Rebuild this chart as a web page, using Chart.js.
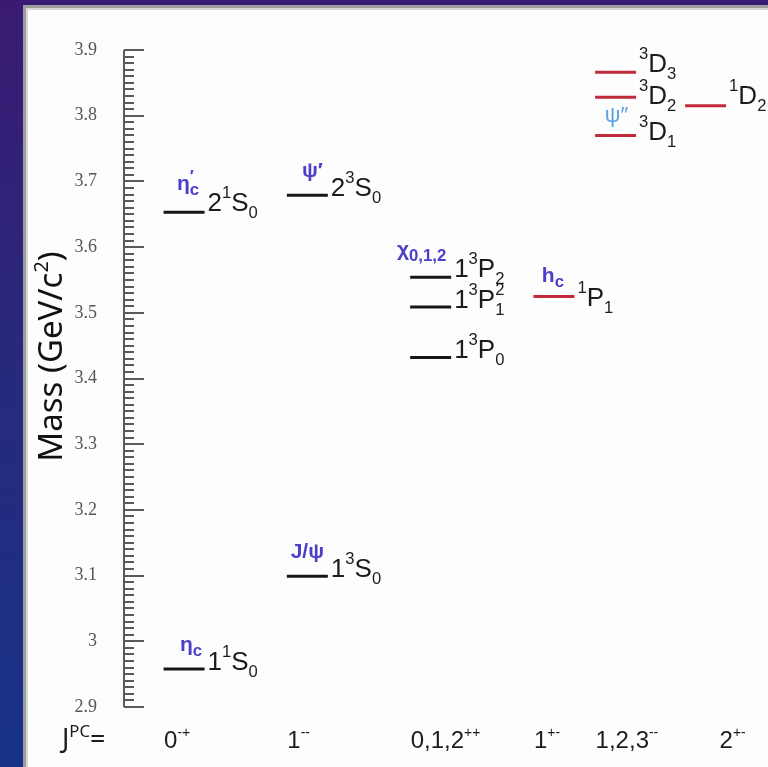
<!DOCTYPE html>
<html>
<head>
<meta charset="utf-8">
<script src="https://cdn.jsdelivr.net/npm/chart.js@4/dist/chart.umd.min.js"></script>
<style>
  html, body { margin: 0; padding: 0; background: #24276f; overflow: hidden; }
  #wrap { position: relative; width: 768px; height: 767px; }
</style>
</head>
<body>
<div id="wrap"><canvas id="spectrum"></canvas></div>
<script>
// ---- Charmonium spectrum data ----
// J^PC columns (markup: ^{..} superscript, _{..} subscript)
const jpcLabels = ['0^{-+}', '1^{--}', '0,1,2^{++}', '1^{+-}', '1,2,3^{--}', '2^{+-}'];
const jpcHeader = 'J^{PC}=';

// Levels: mass in GeV/c^2 and the J^PC column each one belongs to
const levelMass   = [2.958, 3.099, 3.653, 3.679, 3.554, 3.509, 3.432, 3.525, 3.866, 3.828, 3.770, 3.815];
const levelColumn = [0, 1, 0, 1, 2, 2, 2, 3, 4, 4, 4, 5];
const stateNames  = ['1^{1}S_{0}', '1^{3}S_{0}', '2^{1}S_{0}', '2^{3}S_{0}', '1^{3}P_{2}', '1^{3}P^{2}_{1}',
                     '1^{3}P_{0}', '^{1}P_{1}', '^{3}D_{3}', '^{3}D_{2}', '^{3}D_{1}', '^{1}D_{2}'];
const particleNames = ['η_{c}', 'J/ψ', 'η^{′}_{c}', 'ψ′', 'χ_{0,1,2}', '', '', 'h_{c}', '', '', 'ψ″', ''];
const highlighted = [false, false, false, false, false, false, false, true, true, true, true, true];

// Mass axis
const massMin = 2.9, massMax = 3.9, majorStep = 0.1, minorStep = 0.01;
const axisTitle = 'Mass (GeV/c^{2})';

// ---- Layout (scale units / pixel nudges) ----
const columnPos = [0, 1, 2, 3, 3.5, 4.23];
const xRange = [-0.487, 4.736];
const stateDy = [1, 1, -1, 1, 0, 1, 1, 10, 0, 7, 5, -2];
const nameDx  = [7, 0, 4, 5, -9, 0, 0, -1, 0, 0, 1, 0];
const nameDy  = [-18, -18, -22, -18, -21, 0, 0, -14, 0, 0, -13, 0];
const jpcDx   = [-20, -20, -20, -20, -20, 14];

// ---- Styles ----
const SANS = '"Liberation Sans", Arial, sans-serif';
const lineColor = { normal: '#161616', highlight: '#c22a3a' };
const stateStyle = { size: 26, family: SANS, weight: 'normal', small: 0.64, rise: 13, drop: 7, color: '#1c1c1c' };
const nameStyle  = { size: 21, family: SANS, weight: 'bold', small: 0.8, rise: 8, drop: 5, color: '#4d40c8' };
const name2Style = Object.assign({}, nameStyle, { size: 22, weight: 'normal', color: '#5da2e4' });
const jpcStyle   = { size: 24, family: SANS, weight: 'normal', small: 0.58, rise: 11, drop: 0, color: '#1c1c1c' };
const headStyle  = { size: 27, family: '"Noto Sans", sans-serif', weight: 'normal', small: 0.62, rise: 11, drop: 0, color: '#1c1c1c' };
const titleStyle = { size: 33, family: '"Noto Sans", sans-serif', weight: 'normal', small: 0.6, rise: 14, drop: 0, color: '#111111' };

// ---- Rich text helpers ----
function parseRich(s) {
  const out = [];
  let i = 0;
  const isMark = k => (s[k] === '^' || s[k] === '_') && s[k + 1] === '{';
  while (i < s.length) {
    if (isMark(i)) {
      const j = s.indexOf('}', i);
      out.push({ t: s.slice(i + 2, j), k: s[i] === '^' ? 'sup' : 'sub' });
      i = j + 1;
    } else {
      let j = i;
      while (j < s.length && !isMark(j)) j++;
      out.push({ t: s.slice(i, j), k: 'base' });
      i = j;
    }
  }
  return out;
}
function layoutRich(ctx, s, o) {
  const items = [];
  let x = 0, lastSup = null;
  for (const p of parseRich(s)) {
    const size = p.k === 'base' ? o.size : o.size * o.small;
    ctx.font = `${o.weight} ${size}px ${o.family}`;
    const w = ctx.measureText(p.t).width;
    let px = x;
    if (p.k === 'sub' && lastSup !== null) { px = lastSup; x = Math.max(x, px + w); }
    else x += w;
    items.push({ t: p.t, x: px, size, dy: p.k === 'sup' ? -o.rise : (p.k === 'sub' ? o.drop : 0) });
    lastSup = p.k === 'sup' ? px : null;
  }
  return { items, width: x };
}
function drawRich(ctx, s, x, y, o, align) {
  const L = layoutRich(ctx, s, o);
  const x0 = align === 'center' ? x - L.width / 2 : (align === 'right' ? x - L.width : x);
  ctx.fillStyle = o.color;
  ctx.textAlign = 'left';
  ctx.textBaseline = 'alphabetic';
  for (const it of L.items) {
    ctx.font = `${o.weight} ${it.size}px ${o.family}`;
    ctx.fillText(it.t, x0 + it.x, y + it.dy);
  }
}

// ---- Plugin: backdrop panel, mass axis ticks, level labels ----
const LEVEL_HALF = 20.5;
const spectrumDecor = {
  id: 'spectrumDecor',
  beforeDraw(chart) {
    const { ctx, width, height } = chart;
    ctx.save();
    const g = ctx.createLinearGradient(0, 0, 0, height);
    g.addColorStop(0, '#3a1b73');
    g.addColorStop(0.5, '#272a7c');
    g.addColorStop(1, '#163188');
    ctx.fillStyle = g;
    ctx.fillRect(0, 0, width, height);
    ctx.fillStyle = '#fdfdfd';
    ctx.fillRect(23, 5, width - 23, height - 5);
    ctx.fillStyle = '#9c9c9c';
    ctx.fillRect(23, 5, 3, height - 5);
    ctx.fillRect(23, 5, width - 23, 3);
    ctx.fillStyle = '#d6d6d6';
    ctx.fillRect(26, 8, 2, height - 8);
    ctx.fillRect(26, 8, width - 26, 2);
    ctx.restore();
  },
  afterDraw(chart) {
    const { ctx, chartArea } = chart;
    const xs = chart.scales.x, ys = chart.scales.y;
    ctx.save();

    // mass axis: spine and inward ticks
    const ax = chartArea.left;
    ctx.strokeStyle = '#5a5a5a';
    ctx.lineWidth = 2;
    ctx.beginPath();
    ctx.moveTo(ax, ys.getPixelForValue(massMin));
    ctx.lineTo(ax, ys.getPixelForValue(massMax));
    ctx.stroke();
    const nMinor = Math.round((massMax - massMin) / minorStep);
    const perMajor = Math.round(majorStep / minorStep);
    ctx.beginPath();
    for (let i = 0; i <= nMinor; i++) {
      const py = Math.round(ys.getPixelForValue(massMin + i * minorStep));
      const len = i % perMajor === 0 ? 20 : 10;
      ctx.moveTo(ax, py);
      ctx.lineTo(ax + len, py);
    }
    ctx.stroke();

    // level labels
    levelMass.forEach((m, i) => {
      const cx = xs.getPixelForValue(columnPos[levelColumn[i]]);
      const py = ys.getPixelForValue(m);
      drawRich(ctx, stateNames[i], cx + LEVEL_HALF + 3, py + stateDy[i], stateStyle, 'left');
      if (particleNames[i]) {
        const st = particleNames[i] === 'ψ″' ? name2Style : nameStyle;
        drawRich(ctx, particleNames[i], cx + nameDx[i], py + nameDy[i], st, 'center');
      }
    });

    // J^PC row
    const rowY = 748;
    drawRich(ctx, jpcHeader, 62, rowY, headStyle, 'left');
    jpcLabels.forEach((lab, c) => {
      drawRich(ctx, lab, xs.getPixelForValue(columnPos[c]) + jpcDx[c], rowY, jpcStyle, 'left');
    });

    // axis title
    ctx.translate(62, (ys.getPixelForValue(massMin) + ys.getPixelForValue(massMax)) / 2 - 22);
    ctx.rotate(-Math.PI / 2);
    drawRich(ctx, axisTitle, 0, 0, titleStyle, 'center');
    ctx.restore();
  }
};

const points = levelMass.map((m, i) => ({ x: columnPos[levelColumn[i]], y: m }));
const colors = highlighted.map(h => h ? lineColor.highlight : lineColor.normal);

new Chart(document.getElementById('spectrum'), {
  type: 'scatter',
  data: {
    datasets: [{
      data: points,
      pointStyle: 'line',
      pointRadius: LEVEL_HALF,
      pointHoverRadius: LEVEL_HALF,
      pointBorderWidth: 3,
      pointHoverBorderWidth: 3,
      pointBorderColor: colors,
      pointBackgroundColor: colors,
      showLine: false,
      clip: false
    }]
  },
  options: {
    responsive: true,
    maintainAspectRatio: false,
    animation: false,
    events: [],
    layout: { autoPadding: false, padding: { left: 24, top: 50, bottom: 60, right: 0 } },
    plugins: { legend: { display: false }, tooltip: { enabled: false }, title: { display: false } },
    scales: {
      x: { type: 'linear', min: xRange[0], max: xRange[1], display: false },
      y: {
        type: 'linear',
        min: massMin,
        max: massMax,
        afterFit: s => { s.width = 100; },
        grid: { display: false, drawTicks: false },
        border: { display: false },
        ticks: {
          stepSize: majorStep,
          padding: 27,
          color: '#555555',
          font: { family: '"Liberation Serif", "Times New Roman", serif', size: 18 },
          callback: v => String(Number(v.toFixed(1)))
        }
      }
    }
  },
  plugins: [spectrumDecor]
});
</script>
</body>
</html>
